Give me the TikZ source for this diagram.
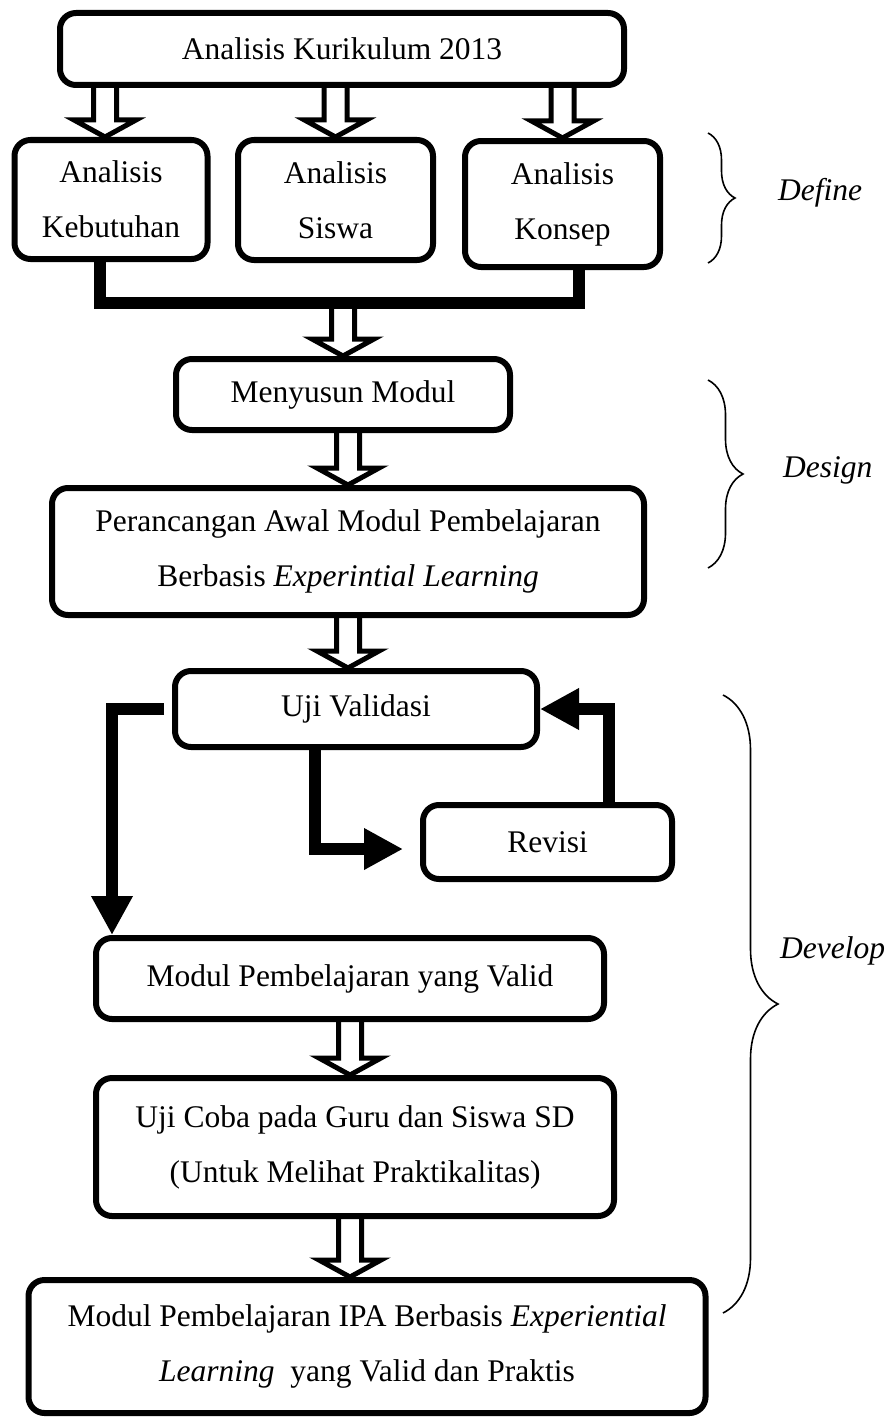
\documentclass[tikz,border=0pt]{standalone}
\usepackage{fontspec}
\setmainfont{Liberation Serif}
\usetikzlibrary{arrows.meta,calc,decorations.pathreplacing}

\tikzstyle{blk}=[draw, line width=6pt, rounded corners=16pt, align=center,
    inner sep=0pt, font=\fontsize{31.5}{55}\selectfont]
\tikzstyle{hollow}=[draw, line width=5pt, line join=miter]
\tikzstyle{fat}=[draw, line width=12pt, line join=miter]
\tikzstyle{fatarr}=[fat, -{Triangle[length=39pt,width=39pt]}]
\tikzstyle{brc}=[draw, line width=1.6pt, decorate]
\tikzstyle{phase}=[anchor=base west, inner sep=0pt,
    font=\fontsize{31.5}{55}\selectfont\itshape]
\def\shaft{11.5pt}
\def\head{31pt}
\def\headlen{17pt}
% hollow block arrow: #1 gives the start level, #2 the tip
\newcommand{\hollowarr}[2]{%
  \draw[hollow] let \p1=(#1), \p2=(#2) in
    (\x2-\shaft,\y1) -- (\x2-\shaft,\y2+\headlen) -- (\x2-\head,\y2+\headlen)
    -- (\x2,\y2) -- (\x2+\head,\y2+\headlen) -- (\x2+\shaft,\y2+\headlen)
    -- (\x2+\shaft,\y1);}

\begin{document}
\begin{tikzpicture}[x=1pt,y=-1pt]
    \useasboundingbox (0,0) rectangle (890,1418);

    %define
    \node (kur) [blk, minimum width=564pt, minimum height=72pt] at (342,49) {Analisis Kurikulum 2013};
    \node (keb) [blk, minimum width=193pt, minimum height=119pt] at (111,199.5) {Analisis\\Kebutuhan};
    \node (sis) [blk, minimum width=195pt, minimum height=120pt] at (335.5,200) {Analisis\\Siswa};
    \node (kon) [blk, minimum width=195pt, minimum height=126pt] at (562.5,204) {Analisis\\Konsep};
    \coordinate (jn) at (343,302.5);

    %design
    \node (men) [blk, minimum width=334pt, minimum height=71pt] at (343,394.5) {Menyusun Modul};
    \node (per) [blk, minimum width=592pt, minimum height=127pt] at (348,551.5)
        {Perancangan Awal Modul Pembelajaran\\Berbasis \textit{Experintial Learning}};

    %develop
    \node (uji) [blk, minimum width=362pt, minimum height=76pt] at (356,709) {Uji Validasi};
    \node (rev) [blk, minimum width=249pt, minimum height=74pt] at (547.5,842) {Revisi};
    \node (val) [blk, minimum width=508pt, minimum height=81pt] at (350,978.5) {Modul Pembelajaran yang Valid};
    \node (coba) [blk, minimum width=518pt, minimum height=138pt] at (355,1147)
        {Uji Coba pada Guru dan Siswa SD\\(Untuk Melihat Praktikalitas)};
    \node (fin) [blk, minimum width=677pt, minimum height=133pt] at (367,1346.5)
        {Modul Pembelajaran IPA Berbasis \textit{Experiential}\\\textit{Learning}\ \ yang Valid dan Praktis};

    \hollowarr{kur.south}{[xshift=-6pt]keb.north}
    \hollowarr{kur.south}{sis.north}
    \hollowarr{kur.south}{kon.north}
    \draw [fat] ([xshift=-11pt]keb.south) |- (jn) -| ([xshift=16pt]kon.south);
    \hollowarr{jn}{men.north}
    \hollowarr{men.south}{per.north}
    \hollowarr{per.south}{uji.north -| per.south}
    %\hollowarr{uji.south}{val.north}
    \draw [fatarr] ([xshift=-8pt]uji.west) -| ([xshift=19pt]val.north west);
    \draw [fatarr] ([xshift=-41pt]uji.south) |- ([xshift=-17pt,yshift=-7pt]rev.west);
    \draw [fatarr] ([xshift=61.5pt]rev.north) |- (uji.east);
    \hollowarr{val.south}{coba.north -| val.south}
    \hollowarr{coba.south}{fin.north -| val.south}

    % phase braces
    \draw [brc, decoration={brace,amplitude=27pt}] (708,133) -- (708,263);
    \draw [brc, decoration={brace,amplitude=35pt}] (708,380) -- (708,568);
    \draw [brc, decoration={brace,amplitude=55pt}] (723,695) -- (723,1313);
    \node (def) [phase] at (778,200) {Define};
    \node (des) [phase] at (783,477) {Design};
    \node (dev) [phase] at (780,958) {Develop};
\end{tikzpicture}
\end{document}
